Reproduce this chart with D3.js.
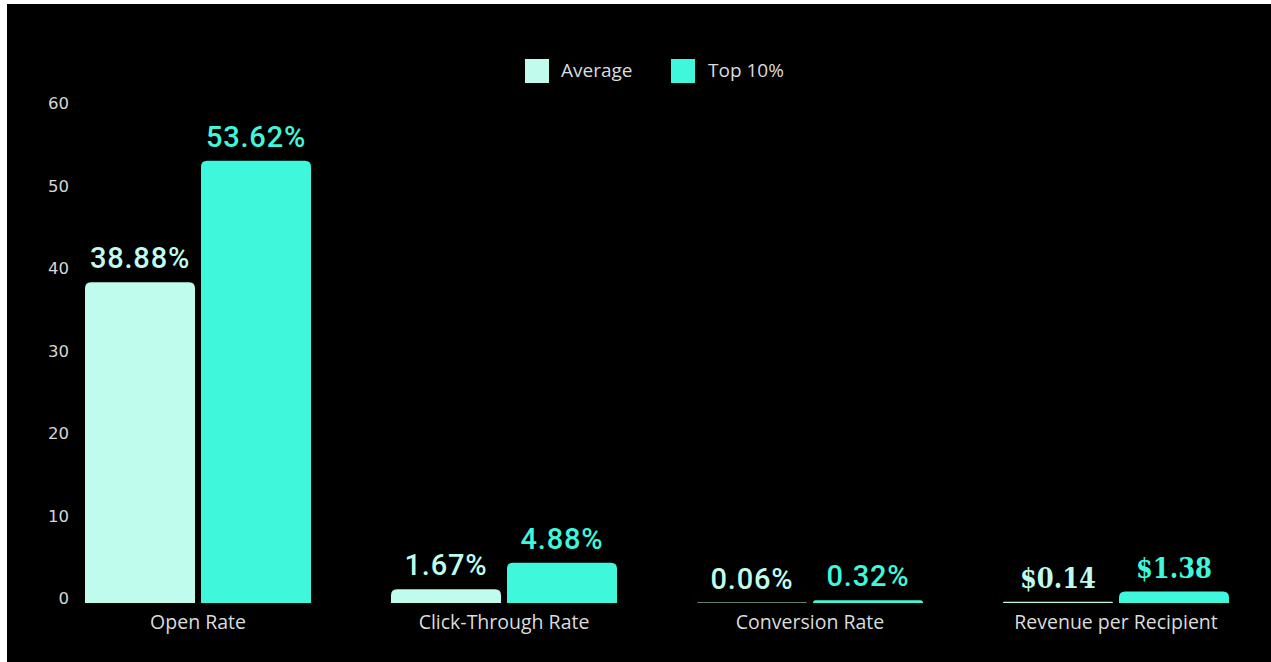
<!DOCTYPE html>
<html>
<head>
<meta charset="utf-8">
<script src="https://cdn.jsdelivr.net/npm/d3@7"></script>
<style>
  html, body { margin: 0; padding: 0; background: #ffffff; }
  svg { display: block; }
</style>
</head>
<body>
<svg id="chart" width="1271" height="662"></svg>
<script>
// Email benchmark metrics: average vs. top 10% performers
const categories = ["Open Rate", "Click-Through Rate", "Conversion Rate", "Revenue per Recipient"];
const seriesNames = ["Average", "Top 10%"];
const averageValues = [38.88, 1.67, 0.06, 0.14];
const top10Values = [53.62, 4.88, 0.32, 1.38];
const valueLabelsAverage = ["38.88%", "1.67%", "0.06%", "$0.14"];
const valueLabelsTop10 = ["53.62%", "4.88%", "0.32%", "$1.38"];
const yTicks = [0, 10, 20, 30, 40, 50, 60];

const colors = { "Average": "#bffcee", "Top 10%": "#3ff8dc" };

const svg = d3.select("#chart");
const W = 1271, H = 662;

// dark panel
svg.append("rect").attr("x", 7).attr("y", 4).attr("width", W - 7).attr("height", H - 4).attr("fill", "#000");

const baseY = 603;
const y = d3.scaleLinear().domain([0, 60]).range([baseY, 108]);
const x0 = d3.scaleBand().domain(categories).range([45, 1269]).paddingInner(0).paddingOuter(0);
const x1 = d3.scaleBand().domain(seriesNames).range([-113, 113]).paddingInner(6 / 116).paddingOuter(0);

// y axis tick labels
const yAxis = d3.axisLeft(y).tickValues(yTicks).tickSize(0).tickPadding(0);
const gy = svg.append("g").attr("transform", "translate(69,0)").call(yAxis);
gy.select(".domain").remove();
gy.selectAll("text")
  .attr("fill", "#d6d6d6")
  .attr("dy", "0.05em")
  .style("font-family", "'DejaVu Sans', sans-serif")
  .style("font-size", "16.5px");

// rounded-top bar path
function barPath(x, yTop, w, h, r) {
  const rr = Math.min(r, h, w / 2);
  return `M${x},${yTop + h}V${yTop + rr}Q${x},${yTop} ${x + rr},${yTop}H${x + w - rr}Q${x + w},${yTop} ${x + w},${yTop + rr}V${yTop + h}Z`;
}

const rows = categories.map((c, i) => ({
  cat: c,
  bars: [
    { s: "Average", v: averageValues[i], label: valueLabelsAverage[i] },
    { s: "Top 10%", v: top10Values[i], label: valueLabelsTop10[i] }
  ]
}));

const groups = svg.append("g").selectAll("g").data(rows).join("g")
  .attr("transform", d => `translate(${x0(d.cat) + x0.bandwidth() / 2},0)`);

groups.selectAll("path").data(d => d.bars).join("path")
  .attr("d", d => barPath(x1(d.s), y(d.v), x1.bandwidth(), baseY - y(d.v), 6))
  .attr("fill", d => colors[d.s]);

groups.selectAll("text.val").data(d => d.bars).join("text")
  .attr("class", "val")
  .attr("x", d => x1(d.s) + x1.bandwidth() / 2)
  .attr("y", d => y(d.v) - 14)
  .attr("text-anchor", "middle")
  .attr("fill", d => colors[d.s])
  .style("font-family", d => d.label.startsWith("$") ? "'DejaVu Serif Condensed', 'DejaVu Serif', serif" : "Roboto, sans-serif")
  .style("font-weight", d => d.label.startsWith("$") ? 700 : 500)
  .style("font-size", d => d.label.startsWith("$") ? "27px" : "29px")
  .style("letter-spacing", d => d.label.startsWith("$") ? "0px" : "0.8px")
  .text(d => d.label);

// category labels
groups.append("text")
  .attr("x", 0)
  .attr("y", 629)
  .attr("text-anchor", "middle")
  .attr("fill", "#dcdcdc")
  .style("font-family", "'Open Sans', sans-serif")
  .style("font-size", "19.5px")
  .text(d => d.cat);

// legend
const legend = svg.append("g");
const legendItems = [
  { name: "Average", bx: 525, tx: 561 },
  { name: "Top 10%", bx: 671, tx: 708 }
];
legendItems.forEach(it => {
  legend.append("rect").attr("x", it.bx).attr("y", 59).attr("width", 24).attr("height", 24)
    .attr("fill", colors[it.name]);
  legend.append("text").attr("x", it.tx).attr("y", 77)
    .attr("fill", "#dcdcdc")
    .style("font-family", "'Open Sans', sans-serif")
    .style("font-size", "19px")
    .text(it.name);
});
</script>
</body>
</html>
